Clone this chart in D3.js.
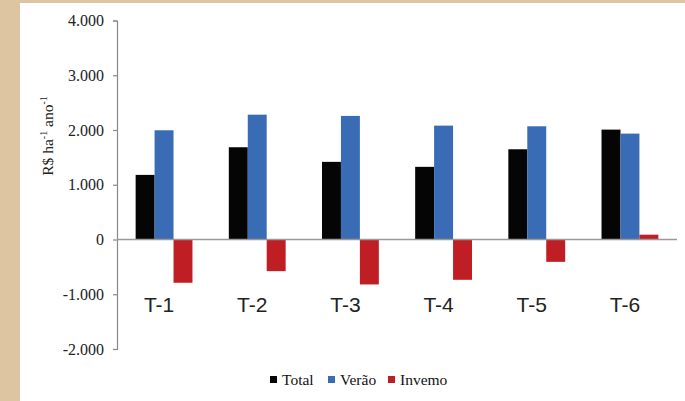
<!DOCTYPE html>
<html>
<head>
<meta charset="utf-8">
<script src="https://cdn.jsdelivr.net/npm/d3@7"></script>
<style>
  body { margin: 0; background: #dcc5a0; }
  svg { display: block; }
</style>
</head>
<body>
<svg id="chart" width="685" height="401"></svg>
<script>
// data
var categories = ["T-1", "T-2", "T-3", "T-4", "T-5", "T-6"];
var series = ["Total", "Verão", "Invemo"];
var total  = [1180, 1685, 1418, 1327, 1648, 2007];
var verao  = [1995, 2280, 2257, 2080, 2068, 1934];
var inverno = [-790, -578, -821, -736, -408, 88];
var yTicks = [-2000, -1000, 0, 1000, 2000, 3000, 4000];
var colors = ["#050505", "#3a6cb5", "#c01e25"];

var serif = "'Liberation Serif', 'Times New Roman', serif";

var svg = d3.select("#chart");

// white sheet on the beige page
svg.append("rect")
    .attr("x", 20).attr("y", 3)
    .attr("width", 665).attr("height", 398)
    .attr("fill", "#fff");

// note: "top" clashes with window.top, so plot edges get their own names
var plotLeft = 117, plotRight = 677, plotTop = 20.5, plotBottom = 349;

var y = d3.scaleLinear()
    .domain([-2000, 4000])
    .range([plotBottom, plotTop]);

var x = d3.scaleBand()
    .domain(categories)
    .range([plotLeft, plotRight])
    .paddingInner(0.39)
    .paddingOuter(0.2);

var xs = d3.scaleBand()
    .domain(series)
    .range([0, x.bandwidth()]);

// 1.000 style, with a plain hyphen for negatives
var fmt = function (d) {
  return d3.format(",")(d).replace(/,/g, ".").replace("\u2212", "-");
};

// y axis
var yAxis = svg.append("g")
    .attr("transform", "translate(" + plotLeft + ",0)")
    .call(d3.axisLeft(y).tickValues(yTicks).tickSize(4).tickPadding(9).tickFormat(fmt))
    .attr("font-family", serif);
yAxis.select(".domain").attr("stroke", "#888").attr("stroke-width", 1.2);
yAxis.selectAll(".tick line").attr("stroke", "#888").attr("stroke-width", 1.2);
yAxis.selectAll("text")
    .attr("font-family", serif)
    .attr("font-size", 16)
    .attr("fill", "#222");

// bars
var rows = categories.map(function (c, i) {
  return { cat: c, vals: [total[i], verao[i], inverno[i]] };
});

var groups = svg.append("g").selectAll("g")
    .data(rows)
    .join("g")
    .attr("transform", function (d) { return "translate(" + x(d.cat) + ",0)"; });

groups.selectAll("rect")
    .data(function (d) { return d.vals.map(function (v, j) { return { s: series[j], v: v, j: j }; }); })
    .join("rect")
    .attr("x", function (d) { return xs(d.s); })
    .attr("width", xs.bandwidth())
    .attr("y", function (d) { return y(Math.max(0, d.v)); })
    .attr("height", function (d) { return Math.abs(y(d.v) - y(0)); })
    .attr("fill", function (d) { return colors[d.j]; });

// zero line
svg.append("line")
    .attr("x1", plotLeft).attr("x2", plotRight)
    .attr("y1", y(0)).attr("y2", y(0))
    .attr("stroke", "#999").attr("stroke-width", 1.5);

// category labels sit below the zero line
svg.append("g").selectAll("text")
    .data(categories)
    .join("text")
    .attr("x", function (d) { return x(d) + x.bandwidth() / 2 - 5; })
    .attr("y", y(-1000) + 18)
    .attr("text-anchor", "middle")
    .attr("font-family", "'Liberation Sans', Arial, sans-serif")
    .attr("font-size", 21)
    .attr("fill", "#222")
    .text(function (d) { return d; });

// axis title
var title = svg.append("text")
    .attr("transform", "translate(53,136) rotate(-90)")
    .attr("text-anchor", "middle")
    .attr("font-family", serif)
    .attr("font-size", 15.5)
    .attr("fill", "#222");
title.append("tspan").text("R$ ha");
title.append("tspan").attr("dy", -6).attr("font-size", 10).text("-1");
title.append("tspan").attr("dy", 6).text(" ano");
title.append("tspan").attr("dy", -6).attr("font-size", 10).text("-1");

// legend
var legendX = [270, 328, 388];
var legend = svg.append("g").selectAll("g")
    .data(series)
    .join("g")
    .attr("transform", function (d, i) { return "translate(" + legendX[i] + ",376)"; });
legend.append("rect")
    .attr("width", 7).attr("height", 7)
    .attr("fill", function (d, i) { return colors[i]; });
legend.append("text")
    .attr("x", 12).attr("y", 9)
    .attr("font-family", serif)
    .attr("font-size", 15.5)
    .attr("fill", "#111")
    .text(function (d) { return d; });
</script>
</body>
</html>
